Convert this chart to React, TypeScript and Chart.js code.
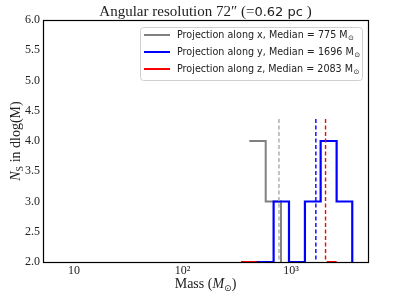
import React, { useEffect, useRef } from "react";
import { Chart, registerables } from "chart.js";

Chart.register(...registerables);

// ---- data ----
const grayEdges = [413, 585, 809];
const grayCounts = [4, 3];
const blueEdges = [495, 692, 959, 1345, 1878, 2636, 3673];
const blueCounts = [2, 3, 2, 3, 4, 3];
const redEdgesA = [346, 486];
const redCountsA = [2];
const redEdgesB = [2140, 2636];
const redCountsB = [2];
const medians = [775, 1696, 2083];
const medianTop = 4.4;
const xTickValues = [10, 100, 1000];
const xTickLabels = ["10", "10\u00b2", "10\u00b3"];
const legendLabels = [
  "Projection along x, Median = 775 M",
  "Projection along y, Median = 1696 M",
  "Projection along z, Median = 2083 M",
];
const seriesColors = ["#808080", "#0000ff", "#ff0000"];
const medianColors = ["#aaaaaa", "#0000ff", "#ff0000"];

function steps(edges: number[], counts: number[], lead: boolean, trail: boolean) {
  const pts: { x: number; y: number | null }[] = [];
  if (lead) pts.push({ x: edges[0], y: 0 });
  counts.forEach((c, i) => {
    pts.push({ x: edges[i], y: c });
    pts.push({ x: edges[i + 1], y: c });
  });
  if (trail) pts.push({ x: edges[edges.length - 1], y: 0 });
  return pts;
}

const SERIF = "'Liberation Serif', serif";
const SANS = "'DejaVu Sans', sans-serif";

const decor = {
  id: "decor",
  afterDatasetsDraw(chart: any) {
    const { ctx, chartArea: a } = chart;
    ctx.save();
    // frame
    ctx.strokeStyle = "#000";
    ctx.lineWidth = 1.2;
    ctx.strokeRect(Math.round(a.left) + 0.5, Math.round(a.top) + 0.5, Math.round(a.right - a.left), Math.round(a.bottom - a.top));

    ctx.fillStyle = "#222";
    ctx.textBaseline = "alphabetic";
    // title
    const tparts: [string, string][] = [
      ["Angular resolution 72\u2033 (=", `15px ${SERIF}`],
      ["0.62 pc", `13px ${SANS}`],
      [" )", `15px ${SERIF}`],
    ];
    let tw = 0;
    tparts.forEach(([t, f]) => { ctx.font = f; tw += ctx.measureText(t).width; });
    let tx = (a.left + a.right) / 2 - tw / 2;
    tparts.forEach(([t, f]) => { ctx.font = f; ctx.textAlign = "left"; ctx.fillText(t, tx, 16); tx += ctx.measureText(t).width; });

    // x title
    const xparts: [string, string, number][] = [
      ["Mass (", `14px ${SERIF}`, 0],
      ["M", `italic 14px ${SERIF}`, 0],
      ["\u2299", `9px ${SANS}`, 3],
      [")", `14px ${SERIF}`, 0],
    ];
    let xw = 0;
    xparts.forEach(([t, f]) => { ctx.font = f; xw += ctx.measureText(t).width; });
    let xx = (a.left + a.right) / 2 - xw / 2;
    xparts.forEach(([t, f, dy]) => { ctx.font = f; ctx.fillText(t, xx, 288 + dy); xx += ctx.measureText(t).width; });

    // y title
    ctx.save();
    ctx.translate(20, (a.top + a.bottom) / 2);
    ctx.rotate(-Math.PI / 2);
    const yparts: [string, string, number][] = [
      ["N", `italic 14px ${SERIF}`, 0],
      ["S", `10px ${SERIF}`, 3],
      [" in dlog(M)", `14px ${SERIF}`, 0],
    ];
    let yw = 0;
    yparts.forEach(([t, f]) => { ctx.font = f; yw += ctx.measureText(t).width; });
    let yx = -yw / 2;
    yparts.forEach(([t, f, dy]) => { ctx.font = f; ctx.fillText(t, yx, dy); yx += ctx.measureText(t).width; });
    ctx.restore();

    // legend
    const lx = 140.5, ly = 27.5, lw = 222, lh = 53;
    ctx.fillStyle = "rgba(255,255,255,0.9)";
    ctx.strokeStyle = "#d0d0d0";
    ctx.lineWidth = 1;
    ctx.beginPath();
    (ctx as any).roundRect(lx, ly, lw, lh, 3);
    ctx.fill();
    ctx.stroke();
    legendLabels.forEach((lab, i) => {
      const cy = 35 + i * 17;
      ctx.strokeStyle = seriesColors[i];
      ctx.lineWidth = 2;
      ctx.beginPath();
      ctx.moveTo(144, cy);
      ctx.lineTo(170, cy);
      ctx.stroke();
      ctx.fillStyle = "#222";
      ctx.font = `9.6px ${SANS}`;
      ctx.textBaseline = "middle";
      ctx.fillText(lab, 177, cy);
      const w = ctx.measureText(lab).width;
      ctx.font = `7px ${SANS}`;
      ctx.fillText("\u2299", 177 + w + 0.5, cy + 3);
    });
    ctx.restore();
  },
};

export default function App() {
  const ref = useRef<HTMLCanvasElement>(null);
  useEffect(() => {
    if (!ref.current) return;
    const datasets: any[] = [
      { data: steps(redEdgesA, redCountsA, false, false), borderColor: seriesColors[2], borderWidth: 2, order: 5 },
      { data: steps(redEdgesB, redCountsB, false, false), borderColor: seriesColors[2], borderWidth: 2, order: 5 },
      { data: steps(grayEdges, grayCounts, false, true), borderColor: seriesColors[0], borderWidth: 2, order: 4 },
      { data: steps(blueEdges, blueCounts, true, true), borderColor: seriesColors[1], borderWidth: 2.2, order: 3 },
      ...medians.map((m, i) => ({
        data: [{ x: m, y: 0 }, { x: m, y: medianTop }],
        borderColor: medianColors[i],
        borderWidth: 1.4,
        borderDash: [4, 2.5],
        order: 2,
      })),
    ];
    const chart = new Chart(ref.current, {
      type: "line",
      data: { datasets },
      plugins: [decor],
      options: {
        animation: false,
        responsive: false,
        layout: { padding: { top: 20, right: 39, left: 0, bottom: 0 } },
        elements: { point: { radius: 0 }, line: { tension: 0, fill: false } },
        plugins: { legend: { display: false }, tooltip: { enabled: false }, title: { display: false } },
        scales: {
          x: {
            type: "logarithmic",
            min: 5.18,
            max: 5130,
            grid: { display: false, drawTicks: false },
            border: { display: false },
            afterBuildTicks: (s: any) => { s.ticks = xTickValues.map((v) => ({ value: v })); },
            afterFit: (s: any) => { s.height = 35; },
            ticks: {
              autoSkip: false,
              maxRotation: 0,
              padding: 2,
              color: "#222",
              font: { family: "Liberation Serif", size: 12 },
              callback: (v: any) => {
                const i = xTickValues.indexOf(Number(v));
                return i >= 0 ? xTickLabels[i] : "";
              },
            },
          },
          y: {
            min: 2,
            max: 6,
            grid: { display: false, drawTicks: false },
            border: { display: false },
            afterFit: (s: any) => { s.width = 43; },
            ticks: {
              stepSize: 0.5,
              padding: 3,
              color: "#222",
              font: { family: "Liberation Serif", size: 12 },
              callback: (v: any) => Number(v).toFixed(1),
            },
          },
        },
      },
    });
    return () => chart.destroy();
  }, []);
  return (
    <div style={{ position: "fixed", left: 0, top: 0, width: 407, height: 297, background: "#fff" }}>
      <canvas ref={ref} width={407} height={297} style={{ width: 407, height: 297 }} />
    </div>
  );
}
